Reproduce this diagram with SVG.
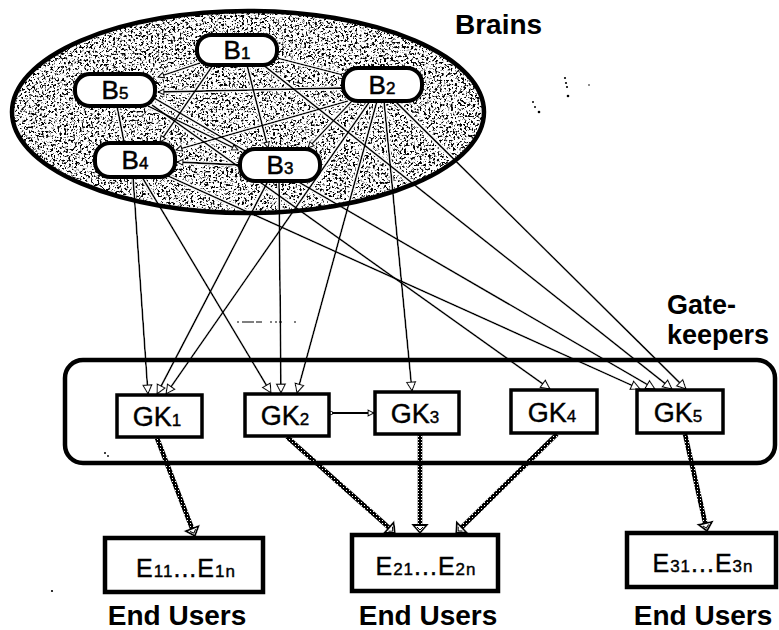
<svg xmlns="http://www.w3.org/2000/svg" width="779" height="630" viewBox="0 0 779 630">
  <style>
    .t { font-family: "Liberation Sans", Arial, Helvetica, sans-serif; fill: #000; }
    .hd { font-weight: bold; font-size: 28px; }
    .side { font-weight: bold; font-size: 27px; }
    .bn { font-size: 26px; text-anchor: middle; stroke: #000; stroke-width: 0.5; }
    .gk { font-size: 27px; text-anchor: middle; stroke: #000; stroke-width: 0.4; }
    .eu { font-size: 25px; text-anchor: middle; letter-spacing: 1px; stroke: #000; stroke-width: 0.4; }
    .sub { font-size: 17px; }
    .esub { font-size: 17px; }
    .brain { fill: #fff; stroke: #000; stroke-width: 4; }
    .gbox { fill: #fff; stroke: #000; stroke-width: 3.5; }
    .ebox { fill: #fff; stroke: #000; stroke-width: 4.5; }
    .mesh { fill: none; stroke: #000; stroke-width: 1.8; }
    .feed { fill: none; stroke: #000; stroke-width: 1.8; marker-end: url(#tri); }
    .serve { fill: none; stroke: url(#grit); stroke-width: 5; marker-end: url(#triWide); }
    .speck { fill: #000; }
  </style>
  <defs>
    <filter id="grain" x="0" y="0" width="1" height="1" color-interpolation-filters="sRGB">
      <feTurbulence type="fractalNoise" baseFrequency="0.45" numOctaves="3" seed="11"/>
      <feColorMatrix type="luminanceToAlpha"/>
      <feComponentTransfer>
        <feFuncA type="linear" slope="10" intercept="-5.15"/>
      </feComponentTransfer>
    </filter>
    <filter id="halo" x="-5%" y="-5%" width="110%" height="110%">
      <feMorphology in="SourceAlpha" operator="dilate" radius="1.4" result="wide"/>
      <feFlood flood-color="#fff"/>
      <feComposite in2="wide" operator="in" result="ring"/>
      <feMerge>
        <feMergeNode in="ring"/>
        <feMergeNode in="SourceGraphic"/>
      </feMerge>
    </filter>
    <clipPath id="ellClip">
      <ellipse cx="248" cy="112" rx="236" ry="101"/>
    </clipPath>
    <pattern id="grit" width="3" height="3" patternUnits="userSpaceOnUse">
      <rect width="3" height="3" fill="#000"/>
      <rect x="1" y="1" width="1" height="1" fill="#fff"/>
    </pattern>
    <marker id="tri" viewBox="0 0 10 10" refX="10" refY="5" markerWidth="9" markerHeight="9" markerUnits="userSpaceOnUse" orient="auto" overflow="visible">
      <path d="M0,0 L10,5 L0,10 z" fill="#fff" stroke="#000" stroke-width="1.3"/>
    </marker>
    <marker id="triSm" viewBox="0 0 10 10" refX="10" refY="5" markerWidth="6" markerHeight="6" markerUnits="userSpaceOnUse" orient="auto" overflow="visible">
      <path d="M0,0 L10,5 L0,10 z" fill="#fff" stroke="#000" stroke-width="2"/>
    </marker>
    <marker id="dot" viewBox="0 0 10 10" refX="5" refY="5" markerWidth="5" markerHeight="5" markerUnits="userSpaceOnUse" overflow="visible">
      <circle cx="5" cy="5" r="3.5" fill="#fff" stroke="#000" stroke-width="2.2"/>
    </marker>
    <marker id="triWide" viewBox="0 -8 10 16" refX="2" refY="0" markerWidth="10" markerHeight="16" markerUnits="userSpaceOnUse" orient="auto" overflow="visible">
      <path d="M0,-7 L8,0 L0,7 z" fill="#fff" stroke="#000" stroke-width="1.8"/>
      <path d="M2,-3 L5,0 L2,3" fill="none" stroke="#000" stroke-width="1"/>
    </marker>
  </defs>

  <rect width="779" height="630" fill="#fff"/>

  <!-- stippled region holding the brain nodes -->
  <g id="brains-fill" clip-path="url(#ellClip)">
    <rect x="10" y="8" width="478" height="210" fill="#fff"/>
    <rect x="10" y="8" width="478" height="210" fill="#000" filter="url(#grain)"/>
  </g>

  <!-- all connectors -->
  <g id="connectors" filter="url(#halo)">
    <g id="brain-mesh" class="mesh">
      <path d="M200,63 L158,77" marker-end="url(#triSm)"/>
      <path d="M343,88 L158,92" marker-end="url(#triSm)"/>
      <path d="M277,58 L343,75" marker-start="url(#dot)" marker-end="url(#dot)"/>
      <path d="M247,65 L268,148" marker-end="url(#triSm)"/>
      <path d="M213,65 L160,142" marker-end="url(#triSm)"/>
      <path d="M117,106 L124,142" marker-start="url(#dot)" marker-end="url(#dot)"/>
      <path d="M240,165 L177,162" marker-end="url(#triSm)"/>
      <path d="M148,106 L238,150" marker-end="url(#triSm)"/>
      <path d="M348,101 L176,150" marker-end="url(#triSm)"/>
      <path d="M352,101 L308,148" marker-end="url(#triSm)"/>
    </g>
    <g id="brain-to-gatekeeper">
      <path class="feed" d="M133,177 L148,394"/>
      <path class="feed" d="M268,181 L157,394"/>
      <path class="feed" d="M370,101 L166,394"/>
      <path class="feed" d="M142,177 L271,393"/>
      <path class="feed" d="M279,181 L281,393"/>
      <path class="feed" d="M377,101 L297,393"/>
      <path class="feed" d="M384,101 L412,391"/>
      <path class="feed" d="M152,105 L550,389"/>
      <path class="feed" d="M168,176 L640,389"/>
      <path class="feed" d="M154,98 L655,389"/>
      <path class="feed" d="M262,64 L672,389"/>
      <path class="feed" d="M395,101 L686,389"/>
    </g>
    <g id="gatekeeper-link">
      <path class="mesh" d="M331,413 L374,413" marker-start="url(#dot)" marker-end="url(#triSm)"/>
    </g>
    <g id="gatekeeper-to-users">
      <path class="serve" d="M157,438 L192.8,530.4"/>
      <path class="serve" d="M287,437 L390.5,529"/>
      <path class="serve" d="M420,435 L420,527"/>
      <path class="serve" d="M557,434 L460.3,528.8"/>
      <path class="serve" d="M685,434 L705.7,525.2"/>
    </g>
  </g>

  <!-- brain cluster outline and title -->
  <g id="brains">
    <ellipse cx="248" cy="112" rx="236" ry="101" fill="none" stroke="#000" stroke-width="4.5"/>
    <text class="t hd" x="455" y="34">Brains</text>
  </g>

  <!-- gatekeeper band -->
  <g id="gatekeepers">
    <rect x="65" y="360" width="710" height="103" rx="18" fill="none" stroke="#000" stroke-width="4.5"/>
    <text class="t side" x="667" y="314">Gate-</text>
    <text class="t side" x="667" y="344">keepers</text>
  </g>

  <!-- brain nodes -->
  <g id="B1">
    <rect class="brain" x="197" y="35" width="80" height="30" rx="14"/>
    <text class="t bn" x="237" y="59">B<tspan class="sub">1</tspan></text>
  </g>
  <g id="B2">
    <rect class="brain" x="343" y="68" width="79" height="33" rx="15"/>
    <text class="t bn" x="382" y="94">B<tspan class="sub">2</tspan></text>
  </g>
  <g id="B3">
    <rect class="brain" x="240" y="149" width="80" height="32" rx="15"/>
    <text class="t bn" x="280" y="174">B<tspan class="sub">3</tspan></text>
  </g>
  <g id="B4">
    <rect class="brain" x="95" y="143" width="80" height="34" rx="15"/>
    <text class="t bn" x="135" y="169">B<tspan class="sub">4</tspan></text>
  </g>
  <g id="B5">
    <rect class="brain" x="75" y="74" width="80" height="32" rx="15"/>
    <text class="t bn" x="115" y="99">B<tspan class="sub">5</tspan></text>
  </g>

  <!-- gatekeeper nodes -->
  <g id="GK1">
    <rect class="gbox" x="117" y="395" width="85" height="42"/>
    <text class="t gk" x="157" y="426">GK<tspan class="sub">1</tspan></text>
  </g>
  <g id="GK2">
    <rect class="gbox" x="245" y="394" width="84" height="42"/>
    <text class="t gk" x="285" y="425">GK<tspan class="sub">2</tspan></text>
  </g>
  <g id="GK3">
    <rect class="gbox" x="375" y="392" width="84" height="42"/>
    <text class="t gk" x="415" y="423">GK<tspan class="sub">3</tspan></text>
  </g>
  <g id="GK4">
    <rect class="gbox" x="511" y="390" width="86" height="43"/>
    <text class="t gk" x="552" y="422">GK<tspan class="sub">4</tspan></text>
  </g>
  <g id="GK5">
    <rect class="gbox" x="637" y="390" width="86" height="43"/>
    <text class="t gk" x="678" y="422">GK<tspan class="sub">5</tspan></text>
  </g>

  <!-- end-user groups -->
  <g id="E1">
    <rect class="ebox" x="105" y="538" width="158" height="54"/>
    <text class="t eu" x="186" y="577">E<tspan class="esub">11</tspan>...E<tspan class="esub">1n</tspan></text>
    <text class="t hd" x="177" y="625" text-anchor="middle">End Users</text>
  </g>
  <g id="E2">
    <rect class="ebox" x="352" y="535" width="146" height="56"/>
    <text class="t eu" x="426" y="575">E<tspan class="esub">21</tspan>...E<tspan class="esub">2n</tspan></text>
    <text class="t hd" x="428" y="625" text-anchor="middle">End Users</text>
  </g>
  <g id="E3">
    <rect class="ebox" x="627" y="533" width="149" height="54"/>
    <text class="t eu" x="703" y="572">E<tspan class="esub">31</tspan>...E<tspan class="esub">3n</tspan></text>
    <text class="t hd" x="703" y="625" text-anchor="middle">End Users</text>
  </g>

  <!-- loose marks -->
  <g id="marks">
    <path d="M237,322 L302,322" fill="none" stroke="#000" stroke-width="1.2" stroke-dasharray="2 3 12 2 6 8 2 3 2"/>
    <circle class="speck" cx="565" cy="78" r="1.1"/>
    <circle class="speck" cx="566" cy="83" r="1.1"/>
    <circle class="speck" cx="567" cy="87" r="1.1"/>
    <circle class="speck" cx="568" cy="96" r="1.3"/>
    <circle class="speck" cx="533" cy="102" r="1"/>
    <circle class="speck" cx="535" cy="107" r="1"/>
    <circle class="speck" cx="539" cy="112" r="1.3"/>
    <circle class="speck" cx="589" cy="85" r="0.8"/>
    <circle class="speck" cx="105" cy="453" r="1"/>
    <circle class="speck" cx="108" cy="456" r="0.9"/>
    <circle class="speck" cx="52" cy="591" r="1.1"/>
  </g>
</svg>
